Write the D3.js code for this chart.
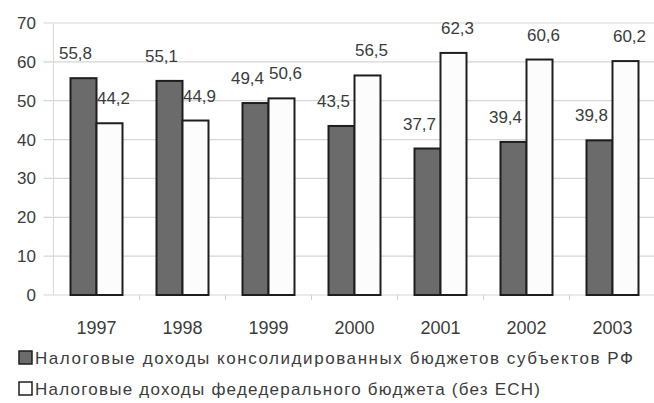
<!DOCTYPE html>
<html>
<head>
<meta charset="utf-8">
<script src="https://cdn.jsdelivr.net/npm/d3@7"></script>
<style>
  html, body { margin: 0; padding: 0; background: #fff; }
  svg { display: block; }
  text { font-family: "Liberation Sans", Arial, sans-serif; fill: #3c3c3c; }
</style>
</head>
<body>
<svg id="chart" width="654" height="403"></svg>
<script>
// Tax revenues, share of total (%), 1997–2003
const years = ["1997", "1998", "1999", "2000", "2001", "2002", "2003"];
const regionalShare = [55.8, 55.1, 49.4, 43.5, 37.7, 39.4, 39.8];
const federalShare = [44.2, 44.9, 50.6, 56.5, 62.3, 60.6, 60.2];
const seriesNames = [
  "Налоговые доходы консолидированных бюджетов субъектов РФ",
  "Налоговые доходы федедерального бюджета (без ЕСН)"
];
const yTicks = [0, 10, 20, 30, 40, 50, 60, 70];

const fmt = v => String(v).replace(".", ",");

const svg = d3.select("#chart");
const plot = { left: 53.5, right: 655.5, top: 23, bottom: 295 };

const x = d3.scaleBand().domain(years).range([plot.left, plot.right]).paddingInner(0).paddingOuter(0);
const y = d3.scaleLinear().domain([0, 70]).range([plot.bottom, plot.top]);
const barW = 26;

const colors = ["#6b6b6b", "#fcfcfc"];
const series = [regionalShare, federalShare];

// horizontal gridlines with short ticks left of the axis
svg.append("g").selectAll("line").data(yTicks).join("line")
  .attr("x1", plot.left - 10).attr("x2", plot.right)
  .attr("y1", d => y(d)).attr("y2", d => y(d))
  .attr("stroke", "#d6d6d6").attr("stroke-width", 1.2);

// vertical axis line
svg.append("line")
  .attr("x1", plot.left).attr("x2", plot.left)
  .attr("y1", plot.top).attr("y2", plot.bottom)
  .attr("stroke", "#dadada").attr("stroke-width", 1);

// category boundary ticks under the baseline
svg.append("g").selectAll("line").data(years.slice(1)).join("line")
  .attr("x1", d => x(d)).attr("x2", d => x(d))
  .attr("y1", plot.bottom).attr("y2", plot.bottom + 5)
  .attr("stroke", "#d2d2d2").attr("stroke-width", 1);

// y tick labels
svg.append("g").selectAll("text").data(yTicks).join("text")
  .attr("x", 36).attr("y", d => y(d) + 6)
  .attr("text-anchor", "end")
  .attr("font-size", 17)
  .text(d => d);

// bars
series.forEach((vals, si) => {
  const g = svg.append("g");
  g.selectAll("rect").data(vals).join("rect")
    .attr("x", (d, i) => x(years[i]) + x.bandwidth() / 2 - barW + si * barW)
    .attr("y", d => y(d))
    .attr("width", barW)
    .attr("height", d => y(0) - y(d))
    .attr("fill", colors[si])
    .attr("stroke", "#1e1e1e")
    .attr("stroke-width", 2);

  // value labels above bars
  g.selectAll("text").data(vals).join("text")
    .attr("x", (d, i) => x(years[i]) + x.bandwidth() / 2 - barW / 2 + si * barW + (si === 0 ? -8 : 4))
    .attr("y", d => y(d) - 19)
    .attr("text-anchor", "middle")
    .attr("font-size", 17)
    .text(d => fmt(d));
});

// x category labels
svg.append("g").selectAll("text").data(years).join("text")
  .attr("x", d => x(d) + x.bandwidth() / 2)
  .attr("y", 334)
  .attr("text-anchor", "middle")
  .attr("font-size", 18)
  .text(d => d);

// legend
const legendRows = [358, 389];
const legendWidths = [598, 505];
seriesNames.forEach((name, i) => {
  svg.append("rect")
    .attr("x", 19).attr("y", legendRows[i] - 7)
    .attr("width", 13).attr("height", 13)
    .attr("fill", colors[i])
    .attr("stroke", "#1e1e1e").attr("stroke-width", 1.5);
  svg.append("text")
    .attr("x", 35).attr("y", legendRows[i] + 6)
    .attr("font-size", 17)
    .attr("textLength", legendWidths[i])
    .attr("lengthAdjust", "spacing")
    .text(name);
});
</script>
</body>
</html>
